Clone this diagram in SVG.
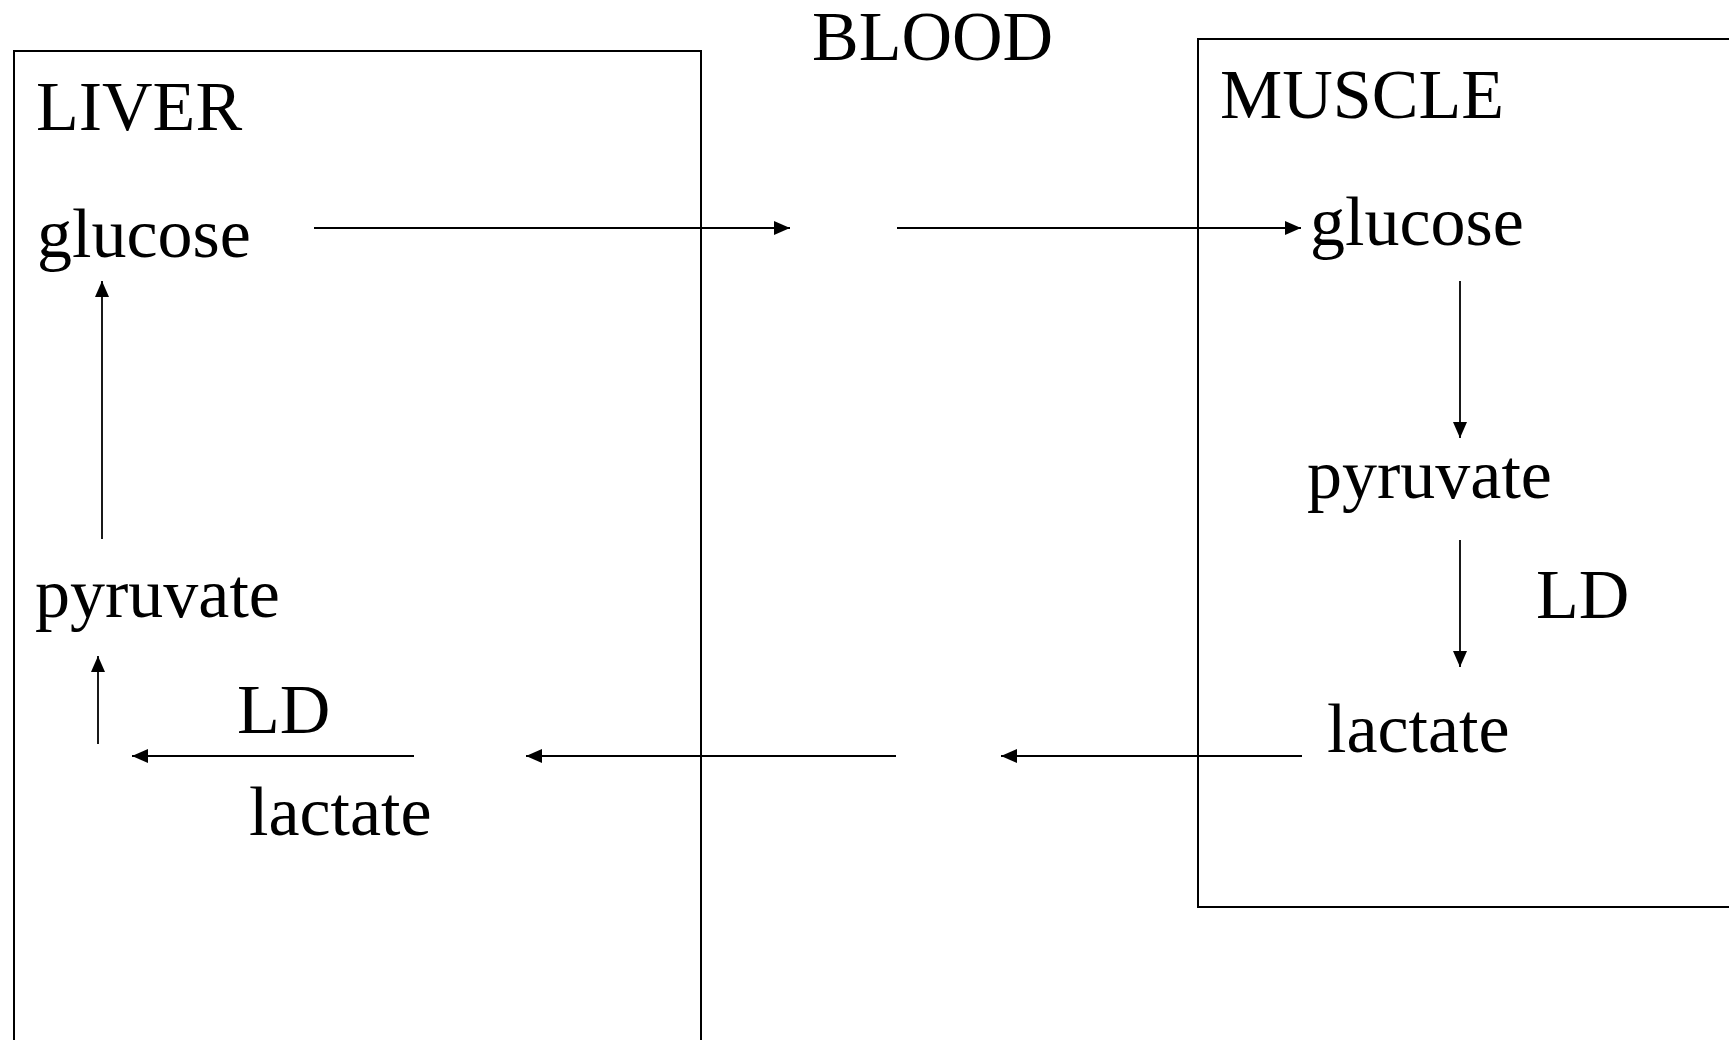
<svg xmlns="http://www.w3.org/2000/svg" width="1729" height="1040" viewBox="0 0 1729 1040">
<style>
text{font-family:"Liberation Serif","Times New Roman",serif;font-size:70px;fill:#000}
.box{fill:none;stroke:#000;stroke-width:2}
.con line{stroke:#000;stroke-width:1.8;marker-end:url(#ah)}
</style>
<defs>
<marker id="ah" markerUnits="userSpaceOnUse" markerWidth="16" markerHeight="14" viewBox="0 0 16 14" refX="16" refY="7" orient="auto">
<path d="M0,0 L16,7 L0,14 z" fill="#000"/>
</marker>
</defs>
<rect width="1729" height="1040" fill="#fff"/>
<g id="liver"><rect class="box" x="14" y="51" width="687" height="1100"/><text x="36" y="130">LIVER</text></g>
<g id="muscle"><rect class="box" x="1198" y="39" width="700" height="868"/><text x="1220" y="118">MUSCLE</text></g>
<g id="blood"><text x="812" y="60">BLOOD</text></g>
<g id="liver-glucose"><text x="37" y="257">glucose</text></g>
<g id="liver-pyruvate"><text x="35" y="617">pyruvate</text></g>
<g id="liver-ld"><text x="237" y="733">LD</text></g>
<g id="liver-lactate"><text x="249" y="835">lactate</text></g>
<g id="muscle-glucose"><text x="1310" y="245">glucose</text></g>
<g id="muscle-pyruvate"><text x="1307" y="498">pyruvate</text></g>
<g id="muscle-ld"><text x="1536" y="618">LD</text></g>
<g id="muscle-lactate"><text x="1327" y="752">lactate</text></g>
<g id="connectors" class="con">
<line x1="314" y1="228" x2="790" y2="228"/>
<line x1="897" y1="228" x2="1301" y2="228"/>
<line x1="1460" y1="281" x2="1460" y2="438"/>
<line x1="1460" y1="540" x2="1460" y2="667"/>
<line x1="1302" y1="756" x2="1001" y2="756"/>
<line x1="896" y1="756" x2="526" y2="756"/>
<line x1="414" y1="756" x2="132" y2="756"/>
<line x1="98" y1="744" x2="98" y2="656"/>
<line x1="102" y1="539" x2="102" y2="281"/>
</g>
</svg>
